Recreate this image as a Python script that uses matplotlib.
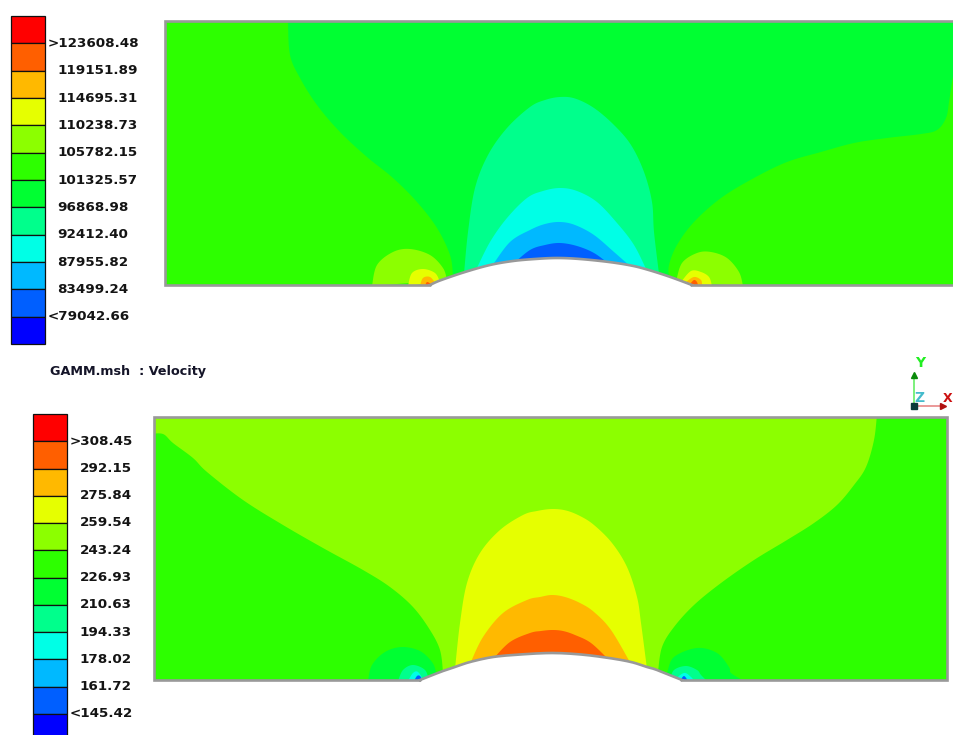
import matplotlib
matplotlib.use("Agg")
import matplotlib.pyplot as plt

W, H = 954, 735

# legend levels
pressure_labels = [">123608.48", "119151.89", "114695.31", "110238.73", "105782.15", "101325.57",
                   "96868.98", "92412.40", "87955.82", "83499.24", "<79042.66"]
velocity_labels = [">308.45", "292.15", "275.84", "259.54", "243.24", "226.93",
                   "210.63", "194.33", "178.02", "161.72", "<145.42"]
band_colors = ["#FF0000", "#FF5F00", "#FFB900", "#E6FF00", "#8CFF00", "#2DFF00",
               "#00FF32", "#00FF8C", "#00FFE6", "#00B9FF", "#005FFF", "#0000FF"]
title_text = "GAMM.msh  : Velocity"

# contour outlines of the pressure field, in picture pixels
p_bump = [(430, 285), (440, 280.5), (465, 272), (490, 265), (513, 261), (535, 259), (557, 258), (580, 259),
          (609, 262), (631, 265.5), (647, 269.5), (669, 276.5), (692, 285)]
p_green_left = [(453, 276), (450, 255), (437, 228), (417, 202), (393, 178), (367, 157),
                (340, 132), (317, 105), (300, 78), (290, 55), (288, 22), (288, 18)]
p_green_right = [(956, 60), (952, 82), (949, 102), (946, 118), (937, 130), (921, 134), (887, 138),
                 (854, 143), (821, 152), (787, 162), (754, 178), (721, 198), (694, 222),
                 (677, 245), (669, 265), (669, 278)]
p_dome_1 = [(464, 274), (468, 232), (475, 188), (488, 155), (507, 128), (530, 107), (545, 100), (560, 97),
            (575, 98.5), (594, 108), (614, 125), (631, 145), (644, 172), (652, 202), (654, 232), (659, 274)]
p_dome_2 = [(476, 270), (490, 242), (507, 218), (527, 198), (543, 191), (560, 188), (577, 191),
            (597, 202), (617, 223), (634, 245), (647, 271)]
p_dome_3 = [(492, 266), (510, 242), (530, 230), (545, 224), (560, 222), (575, 225), (594, 235), (614, 252), (631, 267)]
p_dome_4 = [(513, 264), (530, 250), (545, 245), (560, 243), (577, 246), (594, 253), (609, 264)]
p_left_1 = [(372, 286), (377, 265), (393, 252), (410, 249), (430, 255), (443, 268), (447, 280)]
p_left_2 = [(408, 286), (412, 273), (423, 269), (435, 273), (440, 282)]
p_left_3 = [(420, 286), (423, 278), (430, 277), (436, 284)]
p_left_4 = [(425, 286), (427, 282), (431, 284)]
p_right_1 = [(676, 282), (682, 263), (697, 253), (711, 252), (727, 258), (739, 272), (743, 286)]
p_right_2 = [(681, 282), (691, 271), (701, 272), (709, 277), (712, 286)]
p_right_3 = [(686, 282), (694, 277), (701, 280), (702, 286)]
p_right_4 = [(690, 284), (694, 280), (697, 282), (698, 286)]

# contour outlines of the velocity field, in picture pixels
v_bump = [(420, 680), (430, 676), (443, 671), (455, 667), (470, 662), (493, 657), (520, 654.5), (552, 653),
          (581, 654.5), (609, 658), (631, 662), (647, 667), (657, 670), (682, 680)]
v_band_left = [(443, 672), (440, 650), (430, 630), (413, 607), (390, 587), (363, 570), (323, 548),
               (283, 525), (243, 500), (207, 472), (193, 458), (173, 443), (163, 434), (150, 434)]
v_band_right = [(877, 414), (874, 440), (866, 467), (854, 485), (837, 505), (814, 523), (787, 540),
                (754, 560), (721, 583), (694, 605), (674, 627), (662, 647), (658, 672)]
v_dome_1 = [(455, 669), (460, 623), (467, 583), (480, 553), (500, 530), (523, 515), (537, 511), (552, 509),
            (566, 510.5), (580, 516), (594, 525), (612, 543), (627, 567), (637, 597), (641, 623), (647, 669)]
v_dome_2 = [(470, 664), (483, 637), (503, 613), (527, 600), (540, 597), (552, 595), (565, 597), (580, 603),
            (594, 612), (611, 630), (631, 664)]
v_dome_3 = [(493, 659), (510, 642), (530, 633), (541, 631), (552, 630), (563, 631), (575, 635), (591, 643), (609, 660)]
v_left_1 = [(368, 681), (372, 665), (385, 652), (402, 647), (420, 651), (432, 662), (436, 672), (437, 681)]
v_left_2 = [(398, 681), (403, 670), (413, 665), (425, 670), (429, 681)]
v_left_3 = [(408, 681), (413, 673), (418, 672), (424, 681)]
v_left_4 = [(414, 681), (417, 676), (420, 676), (423, 681)]
v_right_1 = [(664, 680), (667, 673), (674, 657), (697, 648), (717, 653), (729, 667), (731, 673), (744, 681)]
v_right_2 = [(670, 680), (674, 670), (686, 666), (697, 670), (701, 675), (707, 681)]
v_right_3 = [(674, 680), (684, 673), (691, 677), (694, 681)]
v_right_4 = [(680, 681), (684, 676), (688, 681)]


def smooth(points, steps=10):
    # catmull-rom through the read-off points, so outlines stay on them
    pts = [points[0]] + list(points) + [points[-1]]
    out = []
    for i in range(1, len(pts) - 2):
        p0, p1, p2, p3 = pts[i - 1], pts[i], pts[i + 1], pts[i + 2]
        for k in range(steps):
            t = k / steps
            out.append(tuple(
                0.5 * (2 * b + (c - a) * t + (2 * a - 5 * b + 4 * c - d) * t ** 2 + (3 * b - a - 3 * c + d) * t ** 3)
                for a, b, c, d in zip(p0, p1, p2, p3)))
    out.append(points[-1])
    return out


def pixel_axes(x0, y0, x1, y1):
    ax = fig.add_axes([x0 / W, 1 - y1 / H, (x1 - x0) / W, (y1 - y0) / H])
    ax.set_xlim(x0, x1)
    ax.set_ylim(y1, y0)
    ax.axis("off")
    return ax


def fill_band(ax, color, *parts):
    pts = []
    for part in parts:
        pts += part
    ax.fill([p[0] for p in pts], [p[1] for p in pts], color=color, lw=0)


def draw_legend(x0, y0, x1, y1, labels):
    ax = pixel_axes(x0, y0, x1, y1)
    ax.axis("on")
    ax.set_xlim(0, 1)
    ax.set_ylim(12, 0)
    ax.set_xticks([])
    ax.set_yticks([])
    for s in ax.spines.values():
        s.set_visible(False)
    ax.barh([i + 0.5 for i in range(12)], [1] * 12, height=1, color=band_colors,
            edgecolor="#101010", linewidth=0.9, clip_on=False)
    for i, lab in enumerate(labels):
        x = 1.09 if lab[0] in "<>" else 1.37
        ax.text(x, i + 1, lab, fontsize=9.7, fontweight="bold", color="#141414",
                family="DejaVu Sans", ha="left", va="center", clip_on=False)


fig = plt.figure(figsize=(W / 100, H / 100), dpi=100, facecolor="white")

# pressure panel
ax1 = pixel_axes(166, 22, 954, 285)
ax1.axis("on")
ax1.set_facecolor(band_colors[5])
ax1.set_xticks([])
ax1.set_yticks([])
for s in ax1.spines.values():
    s.set_visible(False)
fill_band(ax1, band_colors[6], smooth(p_green_left), [(960, 18), (960, 60)], smooth(p_green_right))
for color, outline in [(band_colors[7], p_dome_1), (band_colors[8], p_dome_2),
                       (band_colors[9], p_dome_3), (band_colors[10], p_dome_4),
                       (band_colors[4], p_left_1), (band_colors[3], p_left_2),
                       (band_colors[2], p_left_3), (band_colors[1], p_left_4),
                       (band_colors[4], p_right_1), (band_colors[3], p_right_2),
                       (band_colors[2], p_right_3), (band_colors[1], p_right_4)]:
    fill_band(ax1, color, smooth(outline))
bump = smooth(p_bump)
fill_band(ax1, "white", bump)
wall = [(960, 285.5), (692, 285.5)] + bump[::-1] + [(430, 285.5), (165.5, 285.5), (165.5, 21.5), (960, 21.5)]
ax1.plot([p[0] for p in wall], [p[1] for p in wall], color="#999999", lw=1.9,
         clip_on=False, solid_joinstyle="miter")

# velocity panel
ax2 = pixel_axes(155, 418, 947, 680)
ax2.axis("on")
ax2.set_facecolor(band_colors[5])
ax2.set_xticks([])
ax2.set_yticks([])
for s in ax2.spines.values():
    s.set_visible(False)
fill_band(ax2, band_colors[4], smooth(v_band_left), [(150, 410), (877, 410)], smooth(v_band_right))
for color, outline in [(band_colors[3], v_dome_1), (band_colors[2], v_dome_2), (band_colors[1], v_dome_3),
                       (band_colors[6], v_left_1), (band_colors[7], v_left_2),
                       (band_colors[8], v_left_3), (band_colors[10], v_left_4),
                       (band_colors[6], v_right_1), (band_colors[7], v_right_2),
                       (band_colors[8], v_right_3), (band_colors[10], v_right_4)]:
    fill_band(ax2, color, smooth(outline))
bump = smooth(v_bump)
fill_band(ax2, "white", bump)
wall = [(420, 680.5), (154.5, 680.5), (154.5, 417.5), (947.5, 417.5), (947.5, 680.5), (682, 680.5)] + bump[::-1]
ax2.plot([p[0] for p in wall], [p[1] for p in wall], color="#999999", lw=1.9,
         clip_on=False, solid_joinstyle="miter")

# legends
draw_legend(11, 16, 45, 344, pressure_labels)
draw_legend(33, 414, 67, 741, velocity_labels)

fig.text(50 / W, 1 - 371 / H, title_text, fontsize=9.2, fontweight="bold", color="#141428",
         family="DejaVu Sans", ha="left", va="center")

# axis triad
tri = pixel_axes(900, 352, 954, 416)
tri.plot([914, 914], [406, 378], color="#66EE66", lw=1.2)
tri.plot([914], [375], marker="^", ms=5, color="#0A8A0A", lw=0)
tri.plot([914, 942], [406, 406], color="#E88888", lw=1.2)
tri.plot([943], [406], marker=">", ms=5, color="#B01010", lw=0)
tri.plot([914], [406], marker="s", ms=4, color="#0A3A3A", lw=0)
tri.text(920, 363, "Y", color="#22EE22", fontsize=10, fontweight="bold", ha="center", va="center")
tri.text(919, 398, "Z", color="#44BBCC", fontsize=10, fontweight="bold", ha="center", va="center")
tri.text(948, 398, "X", color="#CC1111", fontsize=9, fontweight="bold", ha="center", va="center")

fig.savefig("out.png", dpi=100)
